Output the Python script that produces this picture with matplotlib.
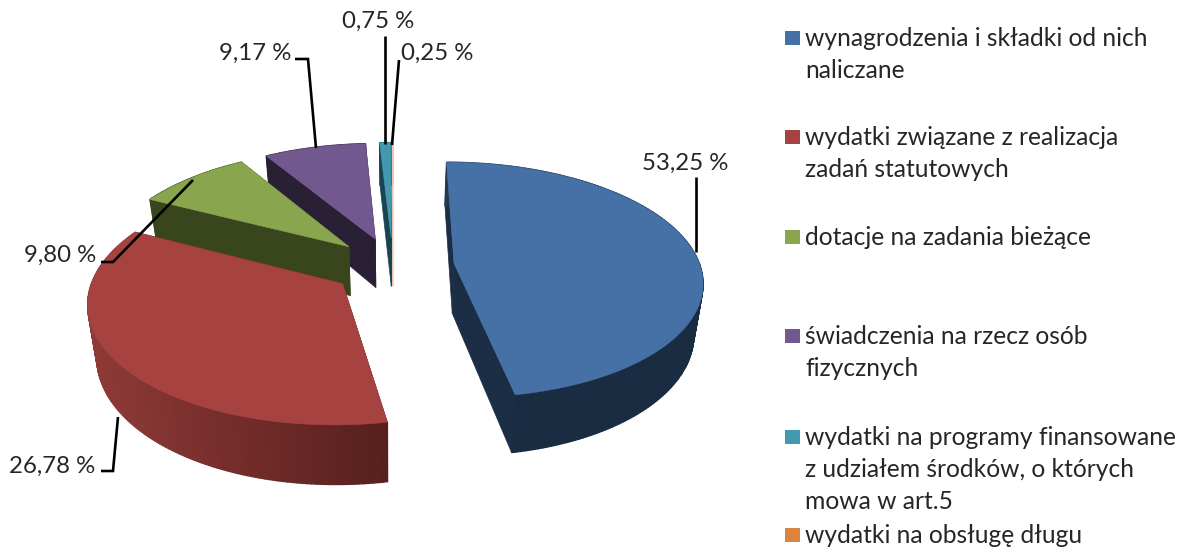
import numpy as np
import matplotlib
matplotlib.use("Agg")
import matplotlib.pyplot as plt
from matplotlib.patches import Polygon, Rectangle

# printed labels of the original chart
categories = ["wynagrodzenia i składki od nich\nnaliczane",
              "wydatki związane z realizacja\nzadań statutowych",
              "dotacje na zadania bieżące",
              "świadczenia na rzecz osób\nfizycznych",
              "wydatki na programy finansowane\nz udziałem środków, o których\nmowa w art.5",
              "wydatki na obsługę długu"]
labels = ["53,25 %", "26,78 %", "9,80 %", "9,17 %", "0,75 %", "0,25 %"]

# shares as the slices are really drawn in the picture (they do not follow the labels)
drawn_shares = [47.1, 35.4, 8.8, 7.8, 0.85, 0.05]

top_colors = ["#4571a6", "#a64341", "#89a54e", "#71588f", "#4198af", "#db843d"]
cut_colors = ["#1b2e45", "#5a2220", "#38451d", "#2a2036", "#1b4452", "#e8c8b0"]
rim_start = ["#24394f", "#8f3a37", "#38451d", "#2a2036", "#1b4452", "#e8c8b0"]
rim_end = ["#1a2c42", "#57201e", "#38451d", "#2a2036", "#1b4452", "#e8c8b0"]

legend_y = [37, 136, 236, 335, 436, 534]

# projection of the tilted pie, in pixels
CX, CY = 393, 266
A, B = 246, 116
K = 0.14
DEPTH = 50
EXPLODE = 0.25
SHRINK = 0.03


def project(u, v, z):
    s = 1 / (1 + K * v)
    x = CX + A * u * s * (1 - SHRINK * z)
    y = CY - B * v * s + DEPTH * z * s
    return x, y


def hex_rgb(c):
    return np.array(matplotlib.colors.to_rgb(c))


def draw_slice(ax, t0, t1, i):
    mid = (t0 + t1) / 2
    ou = EXPLODE * np.sin(mid)
    ov = EXPLODE * np.cos(mid)
    tt = np.linspace(t0, t1, max(int((t1 - t0) * 60), 6))
    us = ou + np.sin(tt)
    vs = ov + np.cos(tt)

    # cut faces
    for ue, ve in [(us[0], vs[0]), (us[-1], vs[-1])]:
        pts = [project(ou, ov, 0), project(ou, ov, 1), project(ue, ve, 1), project(ue, ve, 0)]
        ax.add_patch(Polygon(pts, closed=True, fc=cut_colors[i], ec=cut_colors[i], lw=0.5))

    # rim with gradient
    c0 = hex_rgb(rim_start[i])
    c1 = hex_rgb(rim_end[i])
    xb, _ = project(us, vs, 1)
    lo, hi = xb.min(), xb.max()
    if i == 0:
        lo, hi = xb.min(), xb.min() + 70
    for j in range(len(tt) - 1):
        f = np.clip((xb[j] - lo) / max(hi - lo, 1), 0, 1)
        col = c0 + (c1 - c0) * f
        pts = [project(us[j], vs[j], 0), project(us[j + 1], vs[j + 1], 0),
               project(us[j + 1], vs[j + 1], 1), project(us[j], vs[j], 1)]
        ax.add_patch(Polygon(pts, closed=True, fc=col, ec=col, lw=1.0))

    # top face
    xt, yt = project(us, vs, 0)
    ax0, ay0 = project(ou, ov, 0)
    pts = np.column_stack([np.r_[ax0, xt], np.r_[ay0, yt]])
    c = cut_colors[i] if i == 5 else top_colors[i]
    ax.add_patch(Polygon(pts, closed=True, fc=c, ec=c, lw=0.4))


fig = plt.figure(figsize=(11.91, 5.52), dpi=100)
ax = fig.add_axes([0, 0, 1, 1])
ax.set_xlim(0, 1191)
ax.set_ylim(552, 0)
ax.axis("off")

shares = np.array(drawn_shares, dtype=float)
edges = np.r_[0, np.cumsum(shares / shares.sum())] * 2 * np.pi

for i in [5, 4, 3, 2, 0, 1]:
    draw_slice(ax, edges[i], edges[i + 1], i)

FONT = "Lato"
TXT = "#262626"

# leader lines
lk = dict(color="black", lw=1.9, solid_capstyle="butt", solid_joinstyle="miter", zorder=5)
ax.plot([696, 696], [177, 252], **lk)
ax.plot([101, 113, 118], [471, 471, 417], **lk)
ax.plot([101, 113, 193], [262, 262, 180], **lk)
ax.plot([295, 308, 316], [59, 59, 148], **lk)
ax.plot([385, 385], [36, 144], **lk)
ax.plot([399, 392], [60, 145], **lk)

# data labels
lab_pos = [(728, 163), (95, 466), (96, 255), (291, 53), (414, 21), (473, 53)]
for t, (x, y) in zip(labels, lab_pos):
    ax.text(x, y, t, ha="right", va="center", fontsize=17.3, color=TXT, family=FONT)

# legend
for i, name in enumerate(categories):
    y = legend_y[i]
    ax.add_patch(Rectangle((785, y - 6), 15, 14, fc=top_colors[i], ec="none"))
    for k, line in enumerate(name.split("\n")):
        ax.text(805, y + 9 + 32 * k, line, ha="left", va="baseline", fontsize=17.75, color=TXT, family=FONT)

fig.savefig("out.png", dpi=100, facecolor="white")
